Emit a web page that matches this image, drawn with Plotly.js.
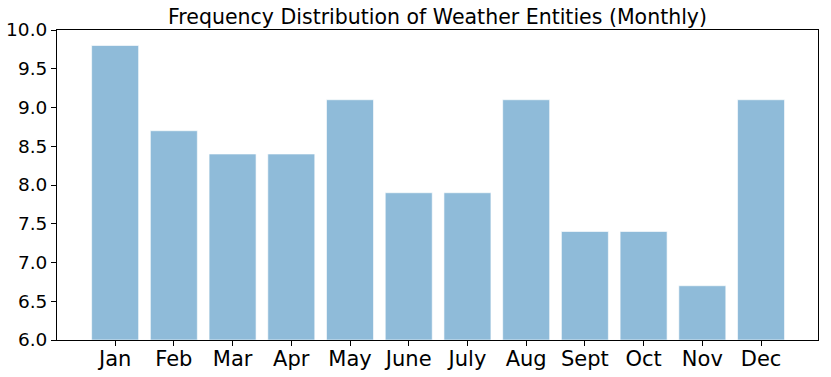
<!DOCTYPE html>
<html>
<head>
<meta charset="utf-8">
<script src="https://cdn.plot.ly/plotly-3.0.1.min.js"></script>
<style>
  html, body { margin: 0; padding: 0; background: #fff; }
  #chart { width: 831px; height: 377px; }
</style>
</head>
<body>
<div id="chart"></div>
<script>
// Monthly counts
const months = ["Jan", "Feb", "Mar", "Apr", "May", "June", "July", "Aug", "Sept", "Oct", "Nov", "Dec"];
const counts = [9.8, 8.7, 8.4, 8.4, 9.1, 7.9, 7.9, 9.1, 7.4, 7.4, 6.7, 9.1];
const yTicks = [6.0, 6.5, 7.0, 7.5, 8.0, 8.5, 9.0, 9.5, 10.0];

const bars = {
  type: "bar",
  x: months.map((_, i) => i),
  y: counts.map((v) => v - 6),
  base: 6,
  width: 0.8,
  marker: {
    color: "rgba(31,119,180,0.5)",
    line: { color: "rgba(255,255,255,0.6)", width: 1 },
  },
  hoverinfo: "skip",
};

const layout = {
  width: 831,
  height: 377,
  margin: { l: 57, r: 13, t: 30, b: 37 },
  paper_bgcolor: "#fff",
  plot_bgcolor: "#fff",
  showlegend: false,
  font: { family: "DejaVu Sans", color: "#000" },
  title: {
    text: "Frequency Distribution of Weather Entities (Monthly)",
    font: { size: 20.5, family: "DejaVu Sans" },
    x: 0.5265,
    xanchor: "center",
    y: 0.955,
    yanchor: "middle",
  },
  xaxis: {
    range: [-0.99, 11.97],
    tickvals: months.map((_, i) => i),
    ticktext: months,
    tickfont: { size: 21 },
    ticks: "outside",
    ticklen: 5,
    ticklabelstandoff: -5,
    tickcolor: "#000",
    showgrid: false,
    zeroline: false,
    showline: true,
    mirror: true,
    linecolor: "#000",
    linewidth: 1,
  },
  yaxis: {
    range: [6, 10],
    tickvals: yTicks,
    ticktext: yTicks.map((v) => v.toFixed(1)),
    tickfont: { size: 18.5 },
    ticks: "outside",
    ticklen: 5,
    tickcolor: "#000",
    showgrid: false,
    zeroline: false,
    showline: true,
    mirror: true,
    linecolor: "#000",
    linewidth: 1,
  },
};

Plotly.newPlot("chart", [bars], layout, { displayModeBar: false, staticPlot: true });
</script>
</body>
</html>
